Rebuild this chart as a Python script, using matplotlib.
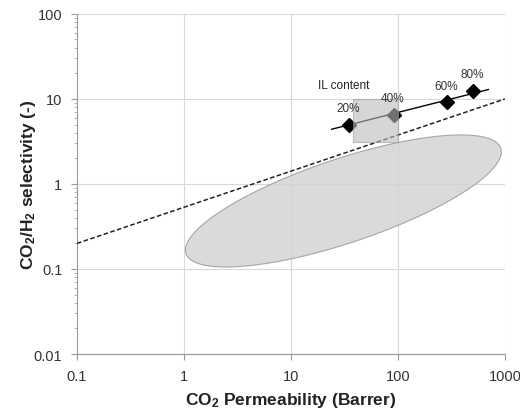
import numpy as np
import matplotlib
matplotlib.use("Agg")
import matplotlib.pyplot as plt
from matplotlib.patches import Rectangle

plt.rcParams["font.family"] = ["Liberation Sans", "DejaVu Sans"]
plt.rcParams["mathtext.default"] = "regular"

# IL-content membranes
il_labels = ["20%", "40%", "60%", "80%"]
il_perm = [35, 92, 290, 505]
il_sel = [5.0, 6.5, 9.1, 12.5]

# trend line through the IL series
trend_x = [24, 700]
trend_y = [4.4, 12.9]

# upper bound (dashed)
bound_x = [0.1, 1000]
bound_y = [0.2, 10]

# grey box (x range, y range)
box_x = [38, 100]
box_y = [3.1, 10]

# ellipse region: centre in log10 units, semi-axes in display px, tilt (deg)
ell_center = (1.49, -0.2)
ell_axes_px = (166, 42)
ell_angle = 18.5

fig = plt.figure(figsize=(5.2, 4.14), dpi=100)
ax = fig.add_axes([0.148, 0.1425, 0.823, 0.8215])
ax.set_xscale("log")
ax.set_yscale("log")
ax.set_xlim(0.1, 1000)
ax.set_ylim(0.01, 100)

# px per decade, from the axes size
px_x = 0.823 * 520 / 4
px_y = 0.8215 * 414 / 4
t = np.linspace(0, 2 * np.pi, 400)
a, b = ell_axes_px
th = np.radians(ell_angle)
u = a * np.cos(t)
v = b * np.sin(t)
dx = u * np.cos(th) - v * np.sin(th)
dy = u * np.sin(th) + v * np.cos(th)
ex = 10 ** (ell_center[0] + dx / px_x)
ey = 10 ** (ell_center[1] + dy / px_y)
ax.fill(ex, ey, facecolor="#d4d4d4", edgecolor="#9a9a9a", lw=0.8, alpha=0.85, zorder=2)

ax.plot(bound_x, bound_y, ls=(0, (3, 1.6)), color="#222222", lw=1.1, zorder=3)
ax.plot(trend_x, trend_y, color="black", lw=1.0, zorder=3)
ax.plot(il_perm, il_sel, ls="none", marker="D", ms=7, color="black", zorder=4)

rect = Rectangle((box_x[0], box_y[0]), box_x[1] - box_x[0], box_y[1] - box_y[0],
                 facecolor="#bcbcbc", edgecolor="#9a9a9a", lw=0.8, alpha=0.6, zorder=5)
ax.add_patch(rect)

for lab, x, y in zip(il_labels, il_perm, il_sel):
    ax.annotate(lab, (x, y), xytext=(-1, 12), textcoords="offset points",
                ha="center", va="center", fontsize=8.5, color="#333333", zorder=6)
ax.text(31, 14.6, "IL content", ha="center", va="center", fontsize=8.5, color="#222222")

ax.grid(True, which="major", color="#d8d8d8", lw=0.8)
ax.set_axisbelow(True)
for s in ["top", "right"]:
    ax.spines[s].set_visible(False)
for s in ["left", "bottom"]:
    ax.spines[s].set_color("#999999")
    ax.spines[s].set_linewidth(0.8)

ax.set_xticks([0.1, 1, 10, 100, 1000])
ax.set_xticklabels(["0.1", "1", "10", "100", "1000"])
ax.set_yticks([0.01, 0.1, 1, 10, 100])
ax.set_yticklabels(["0.01", "0.1", "1", "10", "100"])
ax.tick_params(axis="both", which="major", labelsize=10.5, colors="#999999",
               labelcolor="#333333", length=4, width=0.8)
ax.tick_params(axis="x", which="minor", length=0)
ax.tick_params(axis="y", which="minor", length=2.5, color="#aaaaaa", width=0.6)
ax.tick_params(axis="x", pad=7)
ax.tick_params(axis="y", pad=6.5)

ax.set_xlabel("CO$_2$ Permeability (Barrer)", fontsize=12.5, fontweight="bold", color="#222222", labelpad=5)
ax.set_ylabel("CO$_2$/H$_2$ selectivity (-)", fontsize=12.5, fontweight="bold", color="#222222", labelpad=-3)

fig.savefig("out.png", dpi=100)
